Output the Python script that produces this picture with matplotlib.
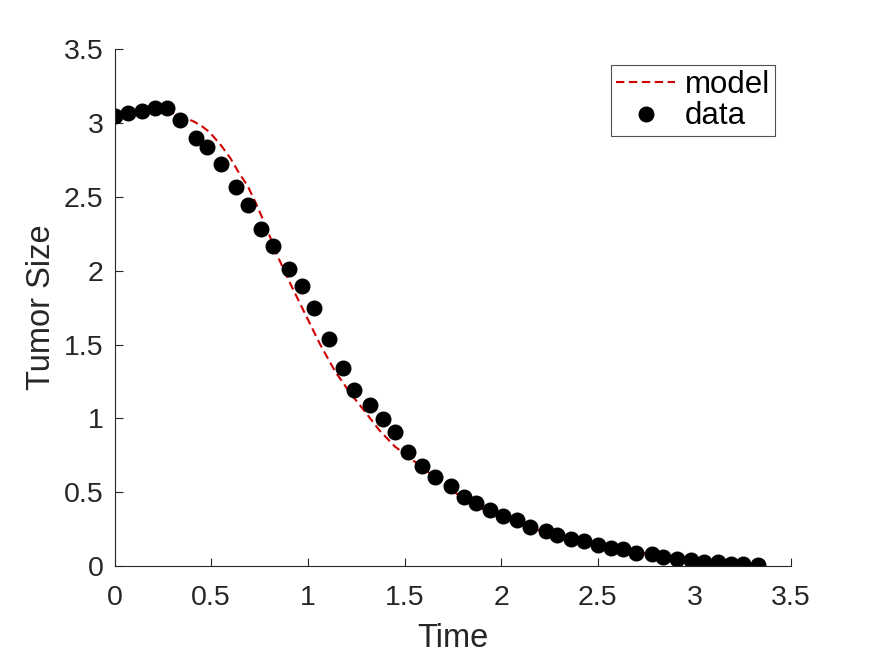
import matplotlib
matplotlib.use("Agg")
import matplotlib.pyplot as plt

# data points
t_data = [0.00, 0.07, 0.14, 0.21, 0.27, 0.34, 0.42, 0.48, 0.55, 0.63,
          0.69, 0.76, 0.82, 0.90, 0.97, 1.03, 1.11, 1.18, 1.24, 1.32,
          1.39, 1.45, 1.52, 1.59, 1.66, 1.74, 1.81, 1.87, 1.94, 2.01,
          2.08, 2.15, 2.23, 2.29, 2.36, 2.43, 2.50, 2.57, 2.63, 2.70,
          2.78, 2.84, 2.91, 2.98, 3.05, 3.12, 3.19, 3.25, 3.33]
y_data = [3.05, 3.07, 3.08, 3.10, 3.10, 3.02, 2.90, 2.84, 2.72, 2.57,
          2.445, 2.28, 2.17, 2.01, 1.90, 1.75, 1.535, 1.34, 1.19, 1.09,
          0.995, 0.91, 0.77, 0.675, 0.605, 0.54, 0.47, 0.425, 0.38, 0.34,
          0.31, 0.265, 0.235, 0.21, 0.185, 0.17, 0.145, 0.125, 0.115, 0.09,
          0.08, 0.065, 0.05, 0.04, 0.03, 0.025, 0.012, 0.014, 0.005]

# model curve (dashed red)
t_model = [0.00, 0.10, 0.20, 0.30, 0.36, 0.41, 0.45, 0.49, 0.55, 0.60,
           0.64, 0.69, 0.73, 0.77, 0.81, 0.85, 0.91, 0.97, 1.06, 1.14,
           1.22, 1.29, 1.37, 1.45, 1.53, 1.63, 1.72, 1.80, 1.90, 2.00,
           2.15, 2.32, 2.50, 2.70, 2.94, 3.15, 3.33]
y_model = [3.05, 3.07, 3.08, 3.07, 3.04, 3.01, 2.98, 2.94, 2.85, 2.76,
           2.67, 2.57, 2.46, 2.34, 2.21, 2.08, 1.91, 1.75, 1.51, 1.32,
           1.17, 1.055, 0.92, 0.81, 0.73, 0.63, 0.54, 0.46, 0.39, 0.33,
           0.26, 0.195, 0.14, 0.095, 0.06, 0.04, 0.03]

plt.rcParams['font.family'] = ['Liberation Sans', 'DejaVu Sans']

fig = plt.figure(figsize=(8.75, 6.56), dpi=100)
ax = fig.add_axes([0.131, 0.137, 0.773, 0.788])

ax.plot(t_model, y_model, '--', color='#d00000', lw=1.5, label='model',
        dashes=(4, 2.2))
ax.plot(t_data, y_data, 'o', color='black', ms=10.5, label='data')

ax.set_xlim(0, 3.5)
ax.set_ylim(0, 3.5)
ax.set_xticks([0, 0.5, 1, 1.5, 2, 2.5, 3, 3.5])
ax.set_xticklabels(['0', '0.5', '1', '1.5', '2', '2.5', '3', '3.5'])
ax.set_yticks([0, 0.5, 1, 1.5, 2, 2.5, 3, 3.5])
ax.set_yticklabels(['0', '0.5', '1', '1.5', '2', '2.5', '3', '3.5'])
ax.tick_params(direction='in', length=6, width=0.8, labelsize=20.5,
               colors='#262626')
ax.tick_params(axis='x', pad=13.5)
ax.tick_params(axis='y', pad=8)
ax.spines['top'].set_visible(False)
ax.spines['right'].set_visible(False)
for s in ['left', 'bottom']:
    ax.spines[s].set_color('#262626')
    ax.spines[s].set_linewidth(0.8)

ax.set_xlabel('Time', fontsize=23.5, color='#262626', labelpad=8.5)
ax.set_ylabel('Tumor Size', fontsize=23.5, color='#262626', labelpad=5)

leg = ax.legend(loc='upper right', bbox_to_anchor=(0.976, 0.969),
                borderaxespad=0, fontsize=22.5, frameon=True, fancybox=False,
                handlelength=1.9, handletextpad=0.3, borderpad=0.15,
                labelspacing=0.05)
leg.get_frame().set_edgecolor('#262626')
leg.get_frame().set_linewidth(0.8)

fig.savefig('out.png', dpi=100)
